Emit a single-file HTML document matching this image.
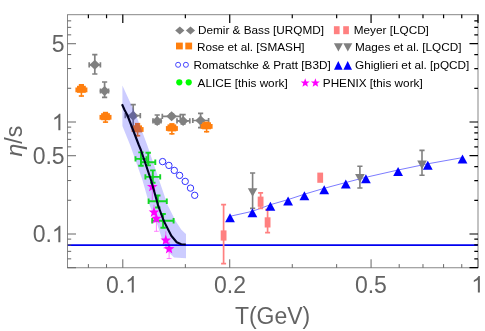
<!DOCTYPE html><html><head><meta charset="utf-8"><style>html,body{margin:0;padding:0;background:#fff}svg{display:block;will-change:transform}</style></head><body>
<svg width="485" height="331" viewBox="0 0 485 331" style="font-family:'Liberation Sans',sans-serif">
<rect width="485" height="331" fill="#fff"/>
<path d="M94.8 54.7V74.0M92.2 54.7H97.39999999999999M92.2 74.0H97.39999999999999" stroke="#808080" stroke-width="1.7" fill="none"/><path d="M89.2 64.8H100.4M89.2 62.199999999999996V67.39999999999999M100.4 62.199999999999996V67.39999999999999" stroke="#808080" stroke-width="1.7" fill="none"/>
<path d="M89.5 64.8L94.8 59.8L100.1 64.8L94.8 69.8Z" fill="#808080"/>
<path d="M104.6 82.0V97.4M102.0 82.0H107.19999999999999M102.0 97.4H107.19999999999999" stroke="#808080" stroke-width="1.7" fill="none"/><path d="M100.5 91.0H108.5M100.5 88.4V93.6M108.5 88.4V93.6" stroke="#808080" stroke-width="1.7" fill="none"/>
<path d="M99.3 91.0L104.6 86.0L109.89999999999999 91.0L104.6 96.0Z" fill="#808080"/>
<path d="M133.2 104.6V126.6M130.6 104.6H135.79999999999998M130.6 126.6H135.79999999999998" stroke="#808080" stroke-width="1.7" fill="none"/><path d="M125.3 115.7H140.3M125.3 113.10000000000001V118.3M140.3 113.10000000000001V118.3" stroke="#808080" stroke-width="1.7" fill="none"/>
<path d="M127.89999999999999 115.7L133.2 110.7L138.5 115.7L133.2 120.7Z" fill="#808080"/>
<path d="M157.2 115.0V124.0M154.6 115.0H159.79999999999998M154.6 124.0H159.79999999999998" stroke="#808080" stroke-width="1.7" fill="none"/><path d="M153.0 120.9H161.0M153.0 118.30000000000001V123.5M161.0 118.30000000000001V123.5" stroke="#808080" stroke-width="1.7" fill="none"/>
<path d="M151.89999999999998 120.9L157.2 115.9L162.5 120.9L157.2 125.9Z" fill="#808080"/>
<path d="M171.6 114.0V118.0M169.0 114.0H174.2M169.0 118.0H174.2" stroke="#808080" stroke-width="1.7" fill="none"/><path d="M162.3 116.3H180.3M162.3 113.7V118.89999999999999M180.3 113.7V118.89999999999999" stroke="#808080" stroke-width="1.7" fill="none"/>
<path d="M166.29999999999998 116.3L171.6 111.3L176.9 116.3L171.6 121.3Z" fill="#808080"/>
<path d="M183.1 114.6V124.0M180.5 114.6H185.7M180.5 124.0H185.7" stroke="#808080" stroke-width="1.7" fill="none"/><path d="M177.0 120.9H189.8M177.0 118.30000000000001V123.5M189.8 118.30000000000001V123.5" stroke="#808080" stroke-width="1.7" fill="none"/>
<path d="M177.79999999999998 120.9L183.1 115.9L188.4 120.9L183.1 125.9Z" fill="#808080"/>
<path d="M200.6 113.3V127.6M198.0 113.3H203.2M198.0 127.6H203.2" stroke="#808080" stroke-width="1.7" fill="none"/><path d="M192.8 120.5H208.6M192.8 117.9V123.1M208.6 117.9V123.1" stroke="#808080" stroke-width="1.7" fill="none"/>
<path d="M195.29999999999998 120.5L200.6 115.5L205.9 120.5L200.6 125.5Z" fill="#808080"/>
<rect x="77.00" y="85.80" width="8.8" height="7" fill="#ff7f0e"/><rect x="75.40" y="87.50" width="12" height="4.8" fill="#ff7f0e"/><rect x="78.80" y="84.00" width="5.2" height="5.50" fill="#ff7f0e"/><rect x="80.60" y="89.50" width="1.6" height="7.30" fill="#ff7f0e"/><rect x="78.80" y="95.20" width="5.2" height="1.6" fill="#ff7f0e"/>
<rect x="101.10" y="113.20" width="8.8" height="7" fill="#ff7f0e"/><rect x="99.50" y="114.90" width="12" height="4.8" fill="#ff7f0e"/><rect x="102.90" y="111.80" width="5.2" height="5.10" fill="#ff7f0e"/><rect x="104.70" y="116.90" width="1.6" height="6.00" fill="#ff7f0e"/><rect x="102.90" y="121.30" width="5.2" height="1.6" fill="#ff7f0e"/>
<rect x="133.20" y="125.40" width="8.8" height="7" fill="#ff7f0e"/><rect x="131.60" y="127.10" width="12" height="4.8" fill="#ff7f0e"/><rect x="135.00" y="122.90" width="5.2" height="6.20" fill="#ff7f0e"/><rect x="136.80" y="129.10" width="1.6" height="7.40" fill="#ff7f0e"/><rect x="135.00" y="134.90" width="5.2" height="1.6" fill="#ff7f0e"/>
<rect x="167.50" y="124.40" width="8.8" height="7" fill="#ff7f0e"/><rect x="165.90" y="126.10" width="12" height="4.8" fill="#ff7f0e"/><rect x="169.30" y="123.10" width="5.2" height="5.00" fill="#ff7f0e"/><rect x="171.10" y="128.10" width="1.6" height="6.50" fill="#ff7f0e"/><rect x="169.30" y="133.00" width="5.2" height="1.6" fill="#ff7f0e"/>
<rect x="202.20" y="122.30" width="8.8" height="7" fill="#ff7f0e"/><rect x="200.60" y="124.00" width="12" height="4.8" fill="#ff7f0e"/><rect x="204.00" y="121.60" width="5.2" height="4.40" fill="#ff7f0e"/><rect x="205.80" y="126.00" width="1.6" height="6.50" fill="#ff7f0e"/><rect x="204.00" y="130.90" width="5.2" height="1.6" fill="#ff7f0e"/>
<polygon points="122.4,85.5 136,115 147.2,145 159.1,180 167.6,205 175.8,221.3 181.2,229.5 184.8,233.1 186,234 186,258.3 174,257.6 168.5,252.1 162.2,239.4 156.8,223.1 149.5,205 142.4,180 130.1,145 122.4,126" fill="#0000ff" fill-opacity="0.2"/>
<path d="M141.0 152.4V165.8M138.3 152.4H143.7M138.3 165.8H143.7" stroke="#12d624" stroke-width="1.9" fill="none"/><path d="M135.5 158.9H146.5M135.5 156.20000000000002V161.6M146.5 156.20000000000002V161.6" stroke="#12d624" stroke-width="1.9" fill="none"/>
<circle cx="141.0" cy="158.9" r="1.6" fill="#12d624"/>
<path d="M148.2 152.7V165.4M145.5 152.7H150.89999999999998M145.5 165.4H150.89999999999998" stroke="#12d624" stroke-width="1.9" fill="none"/><path d="M141.1 162.3H155.3M141.1 159.60000000000002V165.0M155.3 159.60000000000002V165.0" stroke="#12d624" stroke-width="1.9" fill="none"/>
<circle cx="148.2" cy="162.3" r="1.6" fill="#12d624"/>
<path d="M152.8 170.4V182.7M150.10000000000002 170.4H155.5M150.10000000000002 182.7H155.5" stroke="#12d624" stroke-width="1.9" fill="none"/><path d="M145.4 176.9H160.2M145.4 174.20000000000002V179.6M160.2 174.20000000000002V179.6" stroke="#12d624" stroke-width="1.9" fill="none"/>
<circle cx="152.8" cy="176.9" r="1.6" fill="#12d624"/>
<path d="M157.8 195.5V207.5M155.10000000000002 195.5H160.5M155.10000000000002 207.5H160.5" stroke="#12d624" stroke-width="1.9" fill="none"/><path d="M148.6 201.3H166.8M148.6 198.60000000000002V204.0M166.8 198.60000000000002V204.0" stroke="#12d624" stroke-width="1.9" fill="none"/>
<circle cx="157.8" cy="201.3" r="1.6" fill="#12d624"/>
<path d="M163.1 214.0V227.7M160.4 214.0H165.79999999999998M160.4 227.7H165.79999999999998" stroke="#12d624" stroke-width="1.9" fill="none"/><path d="M152.2 220.8H173.6M152.2 218.10000000000002V223.5M173.6 218.10000000000002V223.5" stroke="#12d624" stroke-width="1.9" fill="none"/>
<circle cx="163.1" cy="220.8" r="1.6" fill="#12d624"/>
<circle cx="162.6" cy="161.6" r="3.2" fill="none" stroke="#3030ff" stroke-width="1"/>
<circle cx="168.9" cy="165.4" r="3.2" fill="none" stroke="#3030ff" stroke-width="1"/>
<circle cx="174.3" cy="170.4" r="3.2" fill="none" stroke="#3030ff" stroke-width="1"/>
<circle cx="179.6" cy="175.4" r="3.2" fill="none" stroke="#3030ff" stroke-width="1"/>
<circle cx="185.2" cy="181.4" r="3.2" fill="none" stroke="#3030ff" stroke-width="1"/>
<circle cx="190.5" cy="188.1" r="3.2" fill="none" stroke="#3030ff" stroke-width="1"/>
<circle cx="194.7" cy="195.3" r="3.2" fill="none" stroke="#3030ff" stroke-width="1"/>
<path d="M152.3 186.8V200.6M152.3 200.6H152.3" stroke="#ff00ff" stroke-width="0.8" fill="none" opacity="0.6"/>
<polygon points="152.30,181.20 153.68,184.90 157.63,185.07 154.54,187.53 155.59,191.33 152.30,189.15 149.01,191.33 150.06,187.53 146.97,185.07 150.92,184.90" fill="#ff00ff"/>
<path d="M154.0 204.8V222M151.6 222H156.4" stroke="#ff00ff" stroke-width="0.8" fill="none" opacity="0.6"/>
<polygon points="154.00,206.70 155.38,210.40 159.33,210.57 156.24,213.03 157.29,216.83 154.00,214.65 150.71,216.83 151.76,213.03 148.67,210.57 152.62,210.40" fill="#ff00ff"/>
<path d="M156.4 212V231.3M154.0 231.3H158.8" stroke="#ff00ff" stroke-width="0.8" fill="none" opacity="0.6"/>
<polygon points="156.40,213.00 157.78,216.70 161.73,216.87 158.64,219.33 159.69,223.13 156.40,220.95 153.11,223.13 154.16,219.33 151.07,216.87 155.02,216.70" fill="#ff00ff"/>
<path d="M165.8 231.3V248M163.4 248H168.20000000000002" stroke="#ff00ff" stroke-width="0.8" fill="none" opacity="0.6"/>
<polygon points="165.80,234.70 167.18,238.40 171.13,238.57 168.04,241.03 169.09,244.83 165.80,242.65 162.51,244.83 163.56,241.03 160.47,238.57 164.42,238.40" fill="#ff00ff"/>
<path d="M169.1 242V258.5M166.7 258.5H171.5" stroke="#ff00ff" stroke-width="0.8" fill="none" opacity="0.6"/>
<polygon points="169.10,243.40 170.48,247.10 174.43,247.27 171.34,249.73 172.39,253.53 169.10,251.35 165.81,253.53 166.86,249.73 163.77,247.27 167.72,247.10" fill="#ff00ff"/>
<path d="M67.5 245.2H478.0" stroke="#0000f0" stroke-width="1.8"/>
<path d="M122 104.3 L124.6 110 L127.3 115 L138.8 145 L140.9 150 L151 180 L152.4 185 L158 205 L163.4 220 L164.9 223.1 L171.3 235.8 L176.7 242.2 L181.2 244.3 L185.8 244.5" stroke="#000022" stroke-width="2.1" fill="none" stroke-linejoin="round"/>
<path d="M230.0 216.30 L252.4 211.30 L270.4 204.70 L288.1 199.60 L304.4 194.20 L324.2 188.30 L345.8 182.50 L365.9 177.30 L398.1 170.00 L427.8 163.80 L462.5 157.60" stroke="#4444ff" stroke-width="0.7" fill="none"/>
<path d="M223.6 204.7V263.6M221.1 204.7H226.1M221.1 263.6H226.1" stroke="#ff8080" stroke-width="1.7" fill="none"/>
<rect x="220.7" y="230.4" width="5.8" height="10.2" fill="#ff8080"/>
<path d="M260.6 192.8V208.4M258.1 192.8H263.1M258.1 208.4H263.1" stroke="#ff8080" stroke-width="1.7" fill="none"/>
<rect x="257.70000000000005" y="196.6" width="5.8" height="10.2" fill="#ff8080"/>
<path d="M267.6 209.7V232.6M265.1 209.7H270.1M265.1 232.6H270.1" stroke="#ff8080" stroke-width="1.7" fill="none"/>
<rect x="264.70000000000005" y="217.3" width="5.8" height="10.2" fill="#ff8080"/>
<rect x="317.3" y="172.6" width="5.8" height="10.2" fill="#ff8080"/>
<path d="M252.6 173V208.4M250.0 173H255.2M250.0 208.4H255.2" stroke="#808080" stroke-width="1.6" fill="none"/>
<path d="M247.79999999999998 188.16L257.4 188.16L252.6 196.76Z" fill="#808080"/>
<path d="M359.9 166.2V188M357.29999999999995 166.2H362.5M357.29999999999995 188H362.5" stroke="#808080" stroke-width="1.6" fill="none"/>
<path d="M355.09999999999997 174.06L364.7 174.06L359.9 182.66Z" fill="#808080"/>
<path d="M422.0 150.4V175.3M419.4 150.4H424.6M419.4 175.3H424.6" stroke="#808080" stroke-width="1.6" fill="none"/>
<path d="M417.2 160.56L426.8 160.56L422.0 169.16Z" fill="#808080"/>
<path d="M225.10 222.30L234.90 222.30L230.00 213.30Z" fill="#0000ff"/>
<path d="M247.50 217.30L257.30 217.30L252.40 208.30Z" fill="#0000ff"/>
<path d="M265.50 210.70L275.30 210.70L270.40 201.70Z" fill="#0000ff"/>
<path d="M283.20 205.60L293.00 205.60L288.10 196.60Z" fill="#0000ff"/>
<path d="M299.50 200.20L309.30 200.20L304.40 191.20Z" fill="#0000ff"/>
<path d="M319.30 194.30L329.10 194.30L324.20 185.30Z" fill="#0000ff"/>
<path d="M340.90 188.50L350.70 188.50L345.80 179.50Z" fill="#0000ff"/>
<path d="M361.00 183.30L370.80 183.30L365.90 174.30Z" fill="#0000ff"/>
<path d="M393.20 176.00L403.00 176.00L398.10 167.00Z" fill="#0000ff"/>
<path d="M422.90 169.80L432.70 169.80L427.80 160.80Z" fill="#0000ff"/>
<path d="M457.60 163.60L467.40 163.60L462.50 154.60Z" fill="#0000ff"/>
<rect x="67.5" y="14.75" width="410.5" height="253.05" fill="none" stroke="#6a6a6a" stroke-width="0.8"/>
<path d="M67.5 267.72h8.5M67.5 234.00h8.5M67.5 155.72h8.5M67.5 122.00h8.5M67.5 43.72h8.5M67.5 258.85h3.7M67.5 251.35h3.7M67.5 244.85h3.7M67.5 239.12h3.7M67.5 200.28h3.7M67.5 180.56h3.7M67.5 166.57h3.7M67.5 146.85h3.7M67.5 139.35h3.7M67.5 132.85h3.7M67.5 127.12h3.7M67.5 88.28h3.7M67.5 68.56h3.7M67.5 54.57h3.7M67.5 34.85h3.7M67.5 27.35h3.7M67.5 20.85h3.7M122.80 267.8v-8.5M229.73 267.8v-8.5M371.07 267.8v-8.5M478.00 267.8v-8.5M88.38 267.8v-3.7M106.55 267.8v-3.7M185.35 267.8v-3.7M292.27 267.8v-3.7M336.65 267.8v-3.7M399.20 267.8v-3.7M422.98 267.8v-3.7M443.58 267.8v-3.7M461.75 267.8v-3.7" stroke="#666666" stroke-width="1" fill="none"/>
<path d="M478.0 267.72h-8.5M478.0 234.00h-8.5M478.0 155.72h-8.5M478.0 122.00h-8.5M478.0 43.72h-8.5M478.0 258.85h-3.7M478.0 251.35h-3.7M478.0 244.85h-3.7M478.0 239.12h-3.7M478.0 200.28h-3.7M478.0 180.56h-3.7M478.0 166.57h-3.7M478.0 146.85h-3.7M478.0 139.35h-3.7M478.0 132.85h-3.7M478.0 127.12h-3.7M478.0 88.28h-3.7M478.0 68.56h-3.7M478.0 54.57h-3.7M478.0 34.85h-3.7M478.0 27.35h-3.7M478.0 20.85h-3.7M122.80 14.6v8.5M229.73 14.6v8.5M371.07 14.6v8.5M478.00 14.6v8.5M88.38 14.6v3.7M106.55 14.6v3.7M185.35 14.6v3.7M292.27 14.6v3.7M336.65 14.6v3.7M399.20 14.6v3.7M422.98 14.6v3.7M443.58 14.6v3.7M461.75 14.6v3.7" stroke="#000" stroke-width="1.2" fill="none"/>
<text x="51.81" y="51.92" font-size="23.0" fill="#636363">5</text>
<path transform="translate(51.81,130.20) scale(0.01123,-0.01123)" d="M763 0H583V1147Q518 1085 412.5 1023Q307 961 223 930V1104Q374 1175 487 1276Q600 1377 647 1472H763Z" fill="#636363"/>
<text x="32.63" y="163.92" font-size="23.0" fill="#636363">0.5</text>
<text x="32.63" y="242.20" font-size="23.0" fill="#636363">0.</text><path transform="translate(51.81,242.20) scale(0.01123,-0.01123)" d="M763 0H583V1147Q518 1085 412.5 1023Q307 961 223 930V1104Q374 1175 487 1276Q600 1377 647 1472H763Z" fill="#636363"/>
<text x="106.02" y="292.60" font-size="23.0" fill="#636363">0.</text><path transform="translate(125.20,292.60) scale(0.01123,-0.01123)" d="M763 0H583V1147Q518 1085 412.5 1023Q307 961 223 930V1104Q374 1175 487 1276Q600 1377 647 1472H763Z" fill="#636363"/>
<text x="214.04" y="292.60" font-size="23.0" fill="#636363">0.2</text>
<text x="354.89" y="292.60" font-size="23.0" fill="#636363">0.5</text>
<path transform="translate(471.31,292.60) scale(0.01123,-0.01123)" d="M763 0H583V1147Q518 1085 412.5 1023Q307 961 223 930V1104Q374 1175 487 1276Q600 1377 647 1472H763Z" fill="#636363"/>
<text x="272.6" y="323.8" font-size="23" text-anchor="middle" fill="#636363">T(GeV)</text>
<text transform="translate(21.6,141.2) rotate(-90)" font-size="23" text-anchor="middle" fill="#636363"><tspan font-style="italic">η</tspan>/s</text>
<path d="M175.20000000000002 30.6L179.8 26.6L184.4 30.6L179.8 34.6Z" fill="#808080"/>
<path d="M185.9 30.6L190.5 26.6L195.1 30.6L190.5 34.6Z" fill="#808080"/>
<text x="198.0" y="34.3" font-size="11.75" fill="#000">Demir &amp; Bass [URQMD]</text>
<rect x="176" y="42.6" width="6.8" height="6.8" fill="#ff7f0e"/><rect x="185.3" y="42.6" width="6.8" height="6.8" fill="#ff7f0e"/>
<text x="196.9" y="51.0" font-size="11.75" fill="#000">Rose et al. [SMASH]</text>
<circle cx="178.1" cy="64.8" r="2.5" fill="none" stroke="#3333ff" stroke-width="0.9"/><circle cx="185.9" cy="64.8" r="2.5" fill="none" stroke="#3333ff" stroke-width="0.9"/>
<text x="193.6" y="69.4" font-size="11.75" fill="#000">Romatschke &amp; Pratt [B3D]</text>
<circle cx="179.3" cy="82.3" r="3.1" fill="#00ff00"/><circle cx="188.7" cy="82.3" r="3.1" fill="#00ff00"/>
<text x="197.6" y="86.7" font-size="11.75" fill="#000">ALICE [this work]</text>
<rect x="333.9" y="26.2" width="5.7" height="8" fill="#ff8080"/><rect x="343.2" y="26.2" width="5.7" height="8" fill="#ff8080"/>
<text x="353.8" y="34.3" font-size="11.75" fill="#000">Meyer [LQCD]</text>
<path d="M333.9 43.32L342.9 43.32L338.4 51.52Z" fill="#808080"/>
<path d="M343.3 43.32L352.3 43.32L347.8 51.52Z" fill="#808080"/>
<text x="355.0" y="51.0" font-size="11.75" fill="#000">Mages et al. [LQCD]</text>
<path d="M334.0 69.68L342.6 69.68L338.3 60.980000000000004Z" fill="#0000ff"/>
<path d="M343.4 69.68L352.0 69.68L347.7 60.980000000000004Z" fill="#0000ff"/>
<text x="355.0" y="69.4" font-size="11.75" fill="#000">Ghiglieri et al. [pQCD]</text>
<polygon points="305.20,78.30 306.36,81.40 309.67,81.55 307.08,83.61 307.96,86.80 305.20,84.97 302.44,86.80 303.32,83.61 300.73,81.55 304.04,81.40" fill="#ff00ff"/>
<polygon points="315.40,78.30 316.56,81.40 319.87,81.55 317.28,83.61 318.16,86.80 315.40,84.97 312.64,86.80 313.52,83.61 310.93,81.55 314.24,81.40" fill="#ff00ff"/>
<text x="322.8" y="86.7" font-size="11.75" fill="#000">PHENIX [this work]</text>
</svg></body></html>
